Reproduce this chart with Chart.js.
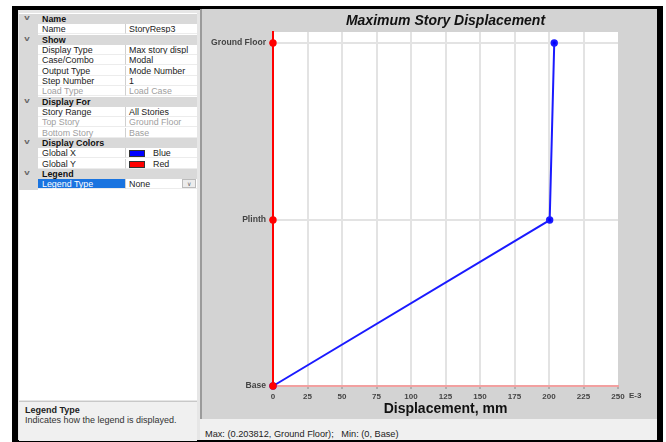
<!DOCTYPE html>
<html>
<head>
<meta charset="utf-8">
<title>Maximum Story Displacement</title>
<script src="https://cdn.jsdelivr.net/npm/chart.js@4.4.1/dist/chart.umd.min.js"></script>
<style>
  html, body { margin: 0; padding: 0; background: #fff; }
  body { width: 666px; height: 442px; position: relative; overflow: hidden;
         font-family: "Liberation Sans", Arial, sans-serif; }
  .frame { position: absolute; left: 12px; top: 6px; width: 651px; height: 436px; background: #000; }
  .inner { position: absolute; left: 18px; top: 10px; width: 639px; height: 430px; background: #e6e6e6; }
  #Gc-grid { position: absolute; left: 19px; top: 13px; width: 178px; height: 387px; background: #fff; }
  .row { position: absolute; left: 0; width: 178px; height: 10.33px; font-size: 8.9px; line-height: 10.33px; }
  .row .exp { position: absolute; left: 0; top: 0; width: 19px; height: 100%; background: #d9d9d9; }
  .row.head { background: #d9d9d9; font-weight: bold; color: #111; }
  .row.head .txt { position: absolute; left: 23px; }
  .row .chev { position: absolute; left: 6px; top: -1px; font-size: 7px; color: #666; transform: scaleX(1.4); }
  .row .lbl { position: absolute; left: 19px; width: 88px; height: 10px; padding-left: 4px; color: #222;
              border-bottom: 1px solid #ececec; border-right: 1px solid #d0d0d0; box-sizing: border-box; }
  .row .val { position: absolute; left: 107px; width: 71px; height: 10px; padding-left: 3px; color: #222;
              overflow: hidden; white-space: nowrap; border-bottom: 1px solid #ececec; box-sizing: border-box; }
  .row.dis .lbl, .row.dis .val { color: #a0a0a0; }
  .row.sel .lbl { background: #1a74e0; color: #fff; }
  .sw { display: inline-block; width: 16px; height: 7px; vertical-align: -1px; margin-right: 8px; border: 1px solid #333; box-sizing: border-box; }
  .dd { position: absolute; right: 1px; top: 0; width: 14px; height: 9px; background: #ececec; border: 1px solid #bbb;
        box-sizing: border-box; font-size: 6px; line-height: 8px; text-align: center; color: #666; }
  #Gc-desc { position: absolute; left: 19px; top: 401px; width: 178px; height: 39px; background: #f0f0f0;
             border-top: 1px solid #c8c8c8; font-size: 9px; color: #222; }
  #Gc-desc b { position: absolute; left: 6px; top: 3px; }
  #Gc-desc span { position: absolute; left: 6px; top: 13px; color: #333; }
  #Gc-panel { position: absolute; left: 200px; top: 9px; width: 457px; height: 410px; background: #d3d3d3;
              border-left: 2px solid #9a9a9a; box-sizing: border-box; }
  #chart { position: absolute; left: 202px; top: 10px; }
  #Gc-status { position: absolute; left: 200px; top: 419px; width: 457px; height: 21px; background: #f0f0f0;
               font-size: 9.2px; color: #222; }
  #Gc-status span { position: absolute; left: 5px; top: 10px; white-space: pre; }
</style>
</head>
<body>
<div class="frame"></div>
<div class="inner"></div>
<div id="Gc-grid"></div>
<div id="Gc-desc"><b>Legend Type</b><span>Indicates how the legend is displayed.</span></div>
<div id="Gc-panel"></div>
<canvas id="chart" width="455" height="409"></canvas>
<div id="Gc-status"><span>Max: (0.203812, Ground Floor);   Min: (0, Base)</span></div>

<script>
// chart data
const stories = ["Base", "Plinth", "Ground Floor"];
const storyElev = [0, 1.5, 3.1];
const globalX = [0, 200.5, 203.8];
const globalY = [0, 0, 0];
const xTicks = [0, 25, 50, 75, 100, 125, 150, 175, 200, 225, 250];

// property grid rows
const gridRows = [
  ["h", "Name"],
  ["r", "Name", "StoryResp3"],
  ["h", "Show"],
  ["r", "Display Type", "Max story displ"],
  ["r", "Case/Combo", "Modal"],
  ["r", "Output Type", "Mode Number"],
  ["r", "Step Number", "1"],
  ["d", "Load Type", "Load Case"],
  ["h", "Display For"],
  ["r", "Story Range", "All Stories"],
  ["d", "Top Story", "Ground Floor"],
  ["d", "Bottom Story", "Base"],
  ["h", "Display Colors"],
  ["c", "Global X", "Blue", "#0000ff"],
  ["c", "Global Y", "Red", "#ff0000"],
  ["h", "Legend"],
  ["s", "Legend Type", "None"],
];

const grid = document.getElementById("Gc-grid");
gridRows.forEach((r, i) => {
  let row = document.createElement("div");
  row.className = "row";
  row.style.top = (1 + i * 10.33) + "px";
  if (r[0] === "h") {
    row.classList.add("head");
    row.innerHTML = `<span class="chev">v</span><span class="txt">${r[1]}</span>`;
  } else {
    if (r[0] === "d") row.classList.add("dis");
    if (r[0] === "s") row.classList.add("sel");
    let val = r[2];
    if (r[0] === "c") val = `<span class="sw" style="background:${r[3]}"></span>${r[2]}`;
    let extra = r[0] === "s" ? `<span class="dd">&#8744;</span>` : "";
    row.innerHTML = `<span class="exp"></span><span class="lbl">${r[1]}</span><span class="val">${val}</span>${extra}`;
  }
  grid.appendChild(row);
});

Chart.defaults.font.family = "'Liberation Sans', Arial, sans-serif";

// white plot area, title, E-3 label
const plotDecor = {
  id: "plotDecor",
  beforeDraw(chart) {
    const { ctx, chartArea: a } = chart;
    ctx.save();
    ctx.fillStyle = "#ffffff";
    ctx.fillRect(a.left, a.top, a.right - a.left, a.bottom - a.top);
    ctx.restore();
  },
  afterDraw(chart) {
    const { ctx, chartArea: a } = chart;
    ctx.save();
    ctx.fillStyle = "#111";
    ctx.font = "italic bold 14px 'Liberation Sans', Arial, sans-serif";
    ctx.textAlign = "center";
    ctx.textBaseline = "middle";
    ctx.fillText("Maximum Story Displacement", (a.left + a.right) / 2, 11);
    ctx.fillStyle = "#444";
    ctx.font = "bold 8px 'Liberation Sans', Arial, sans-serif";
    ctx.textAlign = "left";
    ctx.fillText("E-3", a.right + 11, a.bottom + 10);
    ctx.restore();
  },
};

new Chart(document.getElementById("chart"), {
  type: "line",
  data: {
    datasets: [
      {
        label: "Global Y",
        data: stories.map((s, i) => ({ x: globalY[i], y: storyElev[i] })),
        borderColor: "#ff0000",
        backgroundColor: "#ff0000",
        borderWidth: 2,
        pointRadius: 2.7,
        pointHoverRadius: 2.7,
        clip: false,
      },
      {
        label: "Global X",
        data: stories.map((s, i) => ({ x: globalX[i], y: storyElev[i] })),
        borderColor: "#1a1aff",
        backgroundColor: "#0000ff",
        borderWidth: 2,
        pointRadius: 2.7,
        pointHoverRadius: 2.7,
        clip: false,
      },
    ],
  },
  options: {
    responsive: false,
    animation: false,
    devicePixelRatio: 1,
    layout: { padding: { top: 22, right: 39, left: 0, bottom: 0 } },
    plugins: {
      legend: { display: false },
      title: { display: false },
      tooltip: { enabled: false },
    },
    scales: {
      x: {
        type: "linear",
        min: 0,
        max: 250,
        afterBuildTicks: (scale) => {
          scale.ticks = xTicks.map((v) => ({ value: v }));
        },
        afterFit: (scale) => {
          scale.height = 33;
        },
        ticks: {
          color: "#444",
          font: { size: 8, weight: "bold" },
          padding: 2.5,
          maxRotation: 0,
          autoSkip: false,
        },
        grid: {
          color: (c) => (c.tick && c.tick.value === 250 ? "rgba(0,0,0,0)" : "#e3e3e3"),
          lineWidth: 2,
          tickLength: 3,
          tickColor: "#8a8a8a",
          tickWidth: 1,
        },
        border: { color: "#f2a0a0", width: 2 },
        title: {
          display: true,
          text: "Displacement, mm",
          color: "#111",
          font: { size: 14, weight: "bold" },
          padding: { top: 0, bottom: 1.8 },
        },
      },
      y: {
        type: "linear",
        min: 0,
        max: 3.2,
        afterBuildTicks: (scale) => {
          scale.ticks = storyElev.map((v) => ({ value: v }));
        },
        afterFit: (scale) => {
          scale.width = 71;
        },
        ticks: {
          color: "#444",
          font: { size: 8.6, weight: "bold" },
          padding: 3,
          autoSkip: false,
          callback: (v) => stories[storyElev.indexOf(v)],
        },
        grid: {
          color: "#e3e3e3",
          lineWidth: 2,
          tickLength: 4,
          tickColor: "#e03030",
          tickWidth: 1,
        },
        border: { color: "#ff0000", width: 2 },
      },
    },
  },
  plugins: [plotDecor],
});
</script>
</body>
</html>
